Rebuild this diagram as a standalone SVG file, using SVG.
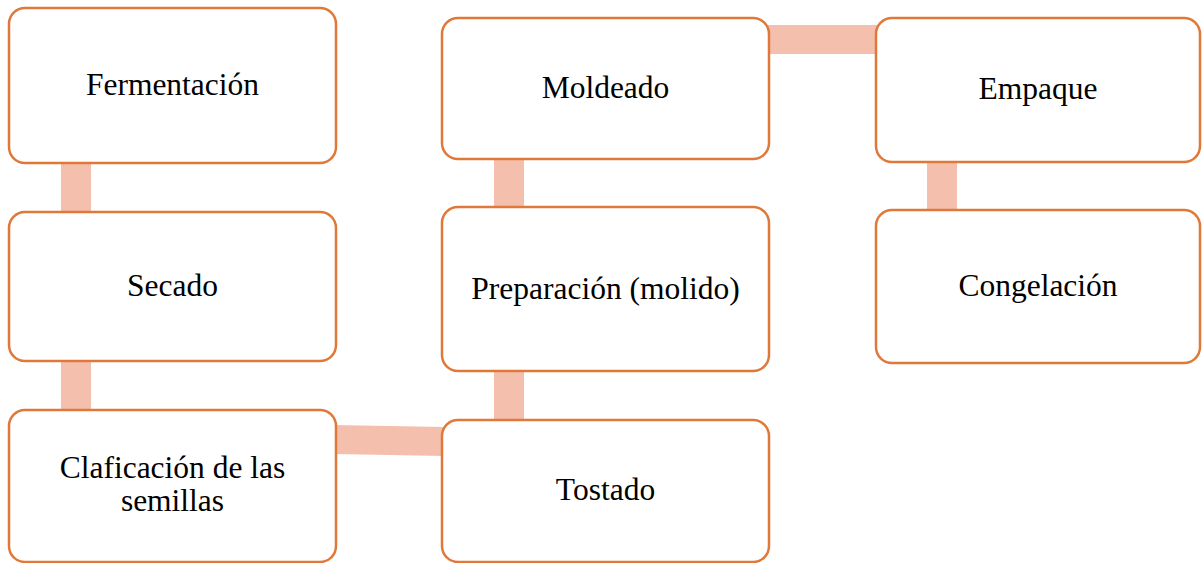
<svg xmlns="http://www.w3.org/2000/svg" width="1202" height="563" viewBox="0 0 1202 563">
<style>
.box{fill:#FFFFFF;stroke:#E0783A;stroke-width:2.5}
.lbl{font-size:31.5px;fill:#000000;text-anchor:middle}
.conn{fill:#F4C0AD;stroke:none}
</style>
<rect width="1202" height="563" fill="#FFFFFF"/>
<g id="connectors">
<rect class="conn" x="61" y="160" width="30" height="55"/>
<rect class="conn" x="61" y="358" width="30" height="55"/>
<polygon class="conn" points="334,425 445,427 445,456 334,454"/>
<rect class="conn" x="494" y="366" width="30" height="57"/>
<rect class="conn" x="494" y="156" width="30" height="54"/>
<rect class="conn" x="767" y="25" width="111" height="29"/>
<rect class="conn" x="927" y="159" width="30" height="55"/>
</g>
<g id="fermentacion">
<rect class="box" x="9" y="8" width="327" height="155" rx="16"/>
<text class="lbl" x="172.5" y="95" style="font-family:'Liberation Serif',serif">Fermentación</text>
</g>
<g id="secado">
<rect class="box" x="9" y="212" width="327" height="149" rx="16"/>
<text class="lbl" x="172.5" y="296" style="font-family:'Liberation Serif',serif">Secado</text>
</g>
<g id="clasificacion">
<rect class="box" x="9" y="410" width="327" height="152" rx="16"/>
<text class="lbl" x="172.5" y="478" style="font-family:'Liberation Serif',serif">Claficación de las</text>
<text class="lbl" x="172.5" y="511" style="font-family:'Liberation Serif',serif">semillas</text>
</g>
<g id="tostado">
<rect class="box" x="442" y="420" width="327" height="142" rx="16"/>
<text class="lbl" x="605.5" y="500" style="font-family:'Liberation Serif',serif">Tostado</text>
</g>
<g id="preparacion">
<rect class="box" x="442" y="207" width="327" height="164" rx="16"/>
<text class="lbl" x="605.5" y="299" style="font-family:'Liberation Serif',serif">Preparación (molido)</text>
</g>
<g id="moldeado">
<rect class="box" x="442" y="18" width="327" height="141" rx="16"/>
<text class="lbl" x="605.5" y="98" style="font-family:'Liberation Serif',serif">Moldeado</text>
</g>
<g id="empaque">
<rect class="box" x="876" y="18" width="324" height="144" rx="16"/>
<text class="lbl" x="1038" y="99" style="font-family:'Liberation Serif',serif">Empaque</text>
</g>
<g id="congelacion">
<rect class="box" x="876" y="210" width="324" height="153" rx="16"/>
<text class="lbl" x="1038" y="296" style="font-family:'Liberation Serif',serif">Congelación</text>
</g>
</svg>
